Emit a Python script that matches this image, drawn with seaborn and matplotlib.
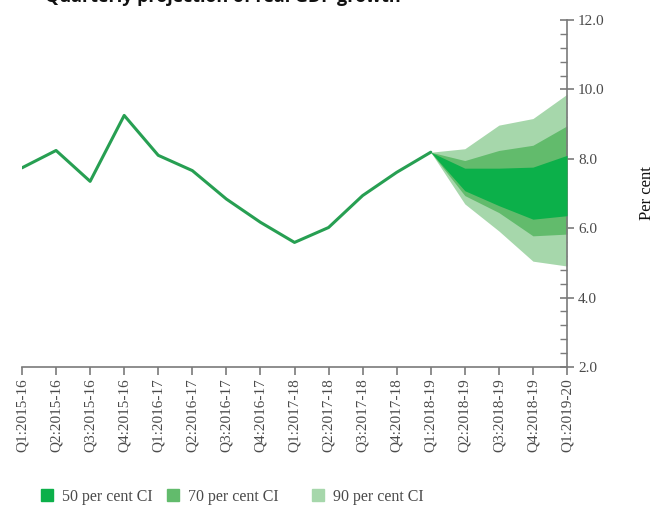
import matplotlib
matplotlib.use("Agg")
import matplotlib.pyplot as plt
from matplotlib.lines import Line2D
from matplotlib.ticker import MultipleLocator
import pandas as pd
import seaborn as sns

# --- Data ---
quarters = [
    "Q1:2015-16", "Q2:2015-16", "Q3:2015-16", "Q4:2015-16",
    "Q1:2016-17", "Q2:2016-17", "Q3:2016-17", "Q4:2016-17",
    "Q1:2017-18", "Q2:2017-18", "Q3:2017-18", "Q4:2017-18",
    "Q1:2018-19", "Q2:2018-19", "Q3:2018-19", "Q4:2018-19",
    "Q1:2019-20",
]
gdp_growth = [7.74, 8.24, 7.35, 9.25, 8.10, 7.66, 6.84, 6.17, 5.59, 6.02, 6.94, 7.61, 8.19]

# projection fan, from Q1:2018-19 onward
lo90 = [8.19, 6.70, 5.92, 5.05, 4.91]
lo70 = [8.19, 6.94, 6.45, 5.78, 5.83]
lo50 = [8.19, 7.08, 6.65, 6.26, 6.36]
up50 = [8.19, 7.73, 7.73, 7.76, 8.10]
up70 = [8.19, 7.95, 8.24, 8.39, 8.95]
up90 = [8.19, 8.29, 8.97, 9.16, 9.86]

y_ticks = [2, 4, 6, 8, 10, 12]
ci_labels = ["50 per cent CI", "70 per cent CI", "90 per cent CI"]
ci_colors = ["#0cb04a", "#62bb6c", "#a6d7ab"]
line_color = "#279f52"
axis_color = "#7a7a7a"
text_color = "#4a4a4a"


def main():
    sns.set_theme(style="white")
    plt.rcParams["font.family"] = ["Liberation Serif", "DejaVu Serif"]

    fig = plt.figure(figsize=(6.65, 5.11), dpi=100)
    ax = fig.add_axes([22 / 665, 144 / 511, 545 / 665, 347 / 511])

    x_all = list(range(len(quarters)))
    hist = pd.DataFrame({"x": x_all[:len(gdp_growth)], "growth": gdp_growth})
    fx = x_all[len(gdp_growth) - 1:]

    # fan bands, widest first
    ax.fill_between(fx, lo90, up90, color=ci_colors[2], linewidth=0, zorder=1)
    ax.fill_between(fx, lo70, up70, color=ci_colors[1], linewidth=0, zorder=2)
    ax.fill_between(fx, lo50, up50, color=ci_colors[0], linewidth=0, zorder=3)

    sns.lineplot(data=hist, x="x", y="growth", color=line_color, linewidth=2.2, ax=ax, zorder=4)

    ax.set_xlim(0, len(quarters) - 1)
    ax.set_ylim(2, 12)
    ax.set_xticks(x_all)
    ax.set_xticklabels(quarters, rotation=90, fontsize=11, color=text_color)
    ax.set_xlabel("")

    ax.yaxis.tick_right()
    ax.yaxis.set_label_position("right")
    ax.yaxis.set_major_locator(MultipleLocator(2))
    ax.yaxis.set_minor_locator(MultipleLocator(0.4))
    ax.set_yticks(y_ticks)
    ax.set_yticklabels([f"{v:.1f}" for v in y_ticks], fontsize=11, color=text_color)
    ax.set_ylabel("Per cent", fontsize=12, color="#111111", labelpad=25)

    for side in ["left", "top"]:
        ax.spines[side].set_visible(False)
    for side in ["right", "bottom"]:
        ax.spines[side].set_color(axis_color)
        ax.spines[side].set_linewidth(1.2)

    ax.tick_params(axis="y", which="major", direction="inout", length=10, width=1.2,
                   color=axis_color, right=True, left=False, pad=3)
    ax.tick_params(axis="y", which="minor", direction="in", length=5, width=1.0,
                   color=axis_color, right=True, left=False)
    ax.tick_params(axis="x", which="major", direction="out", length=6, width=1.2,
                   color=axis_color, bottom=True, pad=2)
    ax.grid(False)

    # legend entries at the bottom, placed one by one like the source
    for label, color, x_left in zip(ci_labels, ci_colors, [40.6, 166.6, 311.6]):
        handle = Line2D([], [], marker="s", linestyle="none", markersize=8,
                        markerfacecolor=color, markeredgecolor=color)
        fig.legend([handle], [label], loc="center left",
                   bbox_to_anchor=(x_left / 665, 1 - 497 / 511),
                   frameon=False, fontsize=11.5, handlelength=0.8,
                   handletextpad=0.55, borderpad=0, borderaxespad=0,
                   labelcolor=text_color)

    # chart title, cut off at the top edge in the source image
    fig.text(45 / 665, 1 - 2 / 511, "Quarterly projection of real GDP growth",
             fontsize=13, fontweight="bold", family=["Open Sans", "DejaVu Sans"],
             ha="left", va="baseline", color="#111111")

    fig.savefig("out.png", dpi=100)
    plt.close(fig)


if __name__ == "__main__":
    main()
